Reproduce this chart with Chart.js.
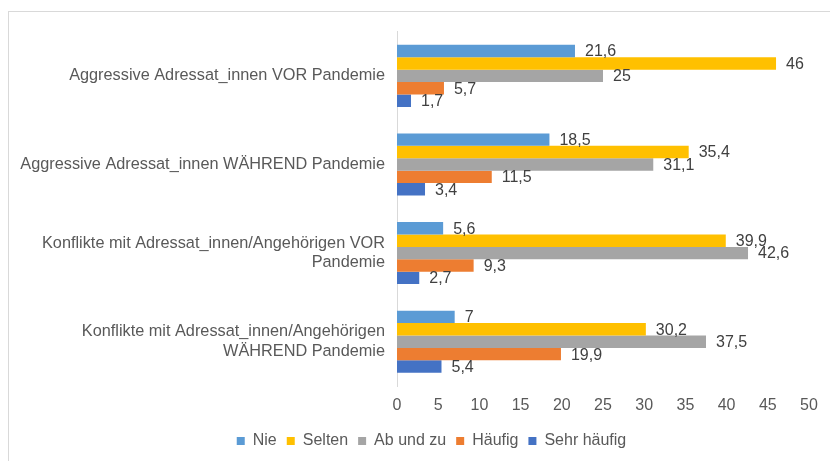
<!DOCTYPE html>
<html>
<head>
<meta charset="utf-8">
<script src="https://cdn.jsdelivr.net/npm/chart.js@4/dist/chart.umd.min.js"></script>
<style>
  html, body { margin: 0; padding: 0; background: #fff; overflow: hidden; }
  #frame { position: absolute; left: 8px; top: 11px; width: 900px; height: 500px; border: 1px solid #d9d9d9; }
  #wrap { position: absolute; left: 0; top: 0; width: 830px; height: 461px; }
</style>
</head>
<body>
<div id="frame"></div>
<div id="wrap"><canvas id="myChart" width="830" height="461"></canvas></div>
<script>
const categories = [
  'Aggressive Adressat_innen VOR Pandemie',
  'Aggressive Adressat_innen WÄHREND Pandemie',
  ['Konflikte mit Adressat_innen/Angehörigen VOR', 'Pandemie'],
  ['Konflikte mit Adressat_innen/Angehörigen', 'WÄHREND Pandemie']
];
const seriesNames = ['Nie', 'Selten', 'Ab und zu', 'Häufig', 'Sehr häufig'];
const nie = [21.6, 18.5, 5.6, 7];
const selten = [46, 35.4, 39.9, 30.2];
const abUndZu = [25, 31.1, 42.6, 37.5];
const haeufig = [5.7, 11.5, 9.3, 19.9];
const sehrHaeufig = [1.7, 3.4, 2.7, 5.4];
const colors = ['#5B9BD5', '#FFC000', '#A5A5A5', '#ED7D31', '#4472C4'];

const FONT = 'Liberation Sans, Arial, sans-serif';

// value labels right of each bar, comma decimals
const valueLabels = {
  id: 'valueLabels',
  afterDatasetsDraw(chart) {
    const c = chart.ctx;
    c.save();
    c.font = '16px ' + FONT;
    c.fillStyle = '#404040';
    c.textAlign = 'left';
    c.textBaseline = 'middle';
    chart.data.datasets.forEach((ds, i) => {
      chart.getDatasetMeta(i).data.forEach((bar, j) => {
        c.fillText(String(ds.data[j]).replace('.', ','), bar.x + 10, bar.y + 1);
      });
    });
    c.restore();
  }
};

// legend sits a bit right of the canvas centre
const legendShift = {
  id: 'legendShift',
  afterLayout(chart) {
    chart.legend.left += 27;
    chart.legend.right += 27;
  }
};

const ctx = document.getElementById('myChart').getContext('2d');
const allData = [nie, selten, abUndZu, haeufig, sehrHaeufig];

new Chart(ctx, {
  type: 'bar',
  data: {
    labels: categories,
    datasets: seriesNames.map((name, i) => ({
      label: name,
      data: allData[i],
      backgroundColor: colors[i],
      borderWidth: 0,
      categoryPercentage: 0.7,
      barPercentage: 1.0
    }))
  },
  options: {
    indexAxis: 'y',
    responsive: false,
    animation: false,
    layout: { padding: { top: 31, left: 0, right: 21, bottom: 2 } },
    plugins: {
      legend: {
        position: 'bottom',
        labels: {
          boxWidth: 8,
          boxHeight: 8,
          padding: 10,
          color: '#595959',
          font: { family: FONT, size: 16 }
        }
      },
      tooltip: { enabled: false }
    },
    scales: {
      x: {
        min: 0,
        max: 50,
        ticks: { stepSize: 5, padding: 10, color: '#595959', font: { family: FONT, size: 16 } },
        grid: { display: false, drawTicks: false },
        border: { display: false },
        afterFit(scale) { scale.height = 37; }
      },
      y: {
        ticks: { padding: 12, color: '#595959', font: { family: FONT, size: 16.3 } },
        grid: { display: false, drawTicks: false },
        border: { display: true, color: '#d9d9d9', width: 1 },
        afterFit(scale) { scale.width = 397; }
      }
    }
  },
  plugins: [valueLabels, legendShift]
});
</script>
</body>
</html>
